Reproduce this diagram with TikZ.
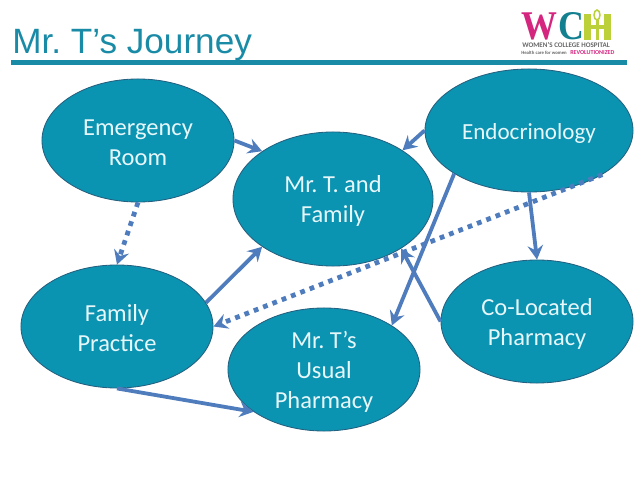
\documentclass[tikz,border=0pt]{standalone}
\usepackage{fontspec}
\setmainfont{Carlito}
\newfontfamily\titlefont{Liberation Sans}
\newfontfamily\logofont{Liberation Serif}
\usetikzlibrary{arrows.meta,shapes.geometric}
\definecolor{bubble}{HTML}{0B93B2}
\definecolor{bubbleedge}{HTML}{24607F}
\definecolor{linkblue}{HTML}{4F7CBD}
\definecolor{titleteal}{HTML}{1A8BA6}
\definecolor{bubbletext}{HTML}{E6F7FA}
\definecolor{logopink}{HTML}{D4267F}
\definecolor{logoteal}{HTML}{12808F}
\definecolor{logolime}{HTML}{BCD03A}
\frenchspacing
\newcommand{\lowered}{\rule{0pt}{15pt}}
\begin{document}
\begin{tikzpicture}[x=0.025cm, y=-0.025cm]
  \useasboundingbox (0,0) rectangle (638,479);
  \tikzset{
    place/.style={shape=ellipse, draw=bubbleedge, fill=bubble, line width=0.6pt,
                  inner sep=0pt, minimum width=4.8cm, minimum height=3.075cm,
                  align=center, text=bubbletext, font=\fontsize{17.4}{21.3}\selectfont},
    link/.style={draw=linkblue, line width=2.7pt,
                 -{Stealth[length=10pt, width=11pt, inset=3.5pt]}},
    maybelink/.style={link, line width=3.4pt, dash pattern=on 3.4pt off 3.7pt,
                 -{Stealth[length=10pt, width=11pt, inset=3.5pt]}},
    logotext/.style={inner sep=0pt, anchor=base west},
    logoletter/.style={logotext, xscale=0.88, transform shape,
                 font=\logofont\bfseries\fontsize{29}{29}\selectfont}}

  % heading and its rule
  \node[anchor=base west, inner sep=0pt, text=titleteal,
        font=\titlefont\fontsize{25}{28}\selectfont] (heading) at (12,54) {Mr. T’s Journey};
  \fill[titleteal] (11,60.5) rectangle (627,65);

  % logo
  \node[logoletter, text=logopink] (logow) at (521.5,40) {W};
  \node[logoletter, text=logoteal] (logoc) at (558,40) {C};
  \fill[logolime] (584,14) rectangle (591,40);
  \fill[logolime] (604,14) rectangle (611,40);
  \fill[logolime] (584,25) rectangle (611,29);
  \fill[logolime] (595.5,20) rectangle (598.5,40);
  \draw[logolime, line width=1.1pt] (597,15) ellipse (3 and 5);
  \node[logotext, text=black!60, font=\fontsize{5}{5}\bfseries\selectfont] (logoname) at (522,47.5) {WOMEN’S COLLEGE HOSPITAL};
  \node[logotext, text=black!60, font=\fontsize{3.4}{4}\bfseries\selectfont] (logoline) at (521,55) {Health care for women};
  \node[logotext, text=logopink, font=\fontsize{4.3}{4}\bfseries\selectfont] (logorev) at (570,55) {REVOLUTIONIZED};

  % the six places
  \node[place] (er)    at (138,140.5) {\lowered Emergency\\Room};
  \node[place, minimum width=5cm, minimum height=3.35cm] (mrt) at (333,199) {\lowered Mr. T. and\\Family};
  \node[place, minimum width=5.2cm, font=\fontsize{16.4}{21.3}\selectfont] (endo) at (529,130.5) {\lowered Endocrinology};
  \node[place] (fp)    at (117,326.5) {\lowered Family\\Practice};
  \node[place] (usual) at (324,369.5) {\lowered Mr. T’s\\Usual\\Pharmacy};
  \node[place] (coloc) at (537,321.5) {\lowered Co-Located\\Pharmacy};

  % dotted referrals
  \draw[maybelink] (er.south) -- (fp.north);
  \draw[maybelink] (endo.-31) -- (fp.east);

  % solid links
  \draw[link] (er.east) -- (mrt.146.5);
  \draw[link] (fp.15) -- (mrt.214.6);
  \draw[link] (endo.west) -- (mrt.35);
  \draw[link] (endo.210) -- (usual.33);
  \draw[link] (endo.south) -- (coloc.north);
  \draw[link] (coloc.west) -- (mrt.-36);
  \draw[link] (fp.south) -- (usual.211.6);
\end{tikzpicture}
\end{document}
